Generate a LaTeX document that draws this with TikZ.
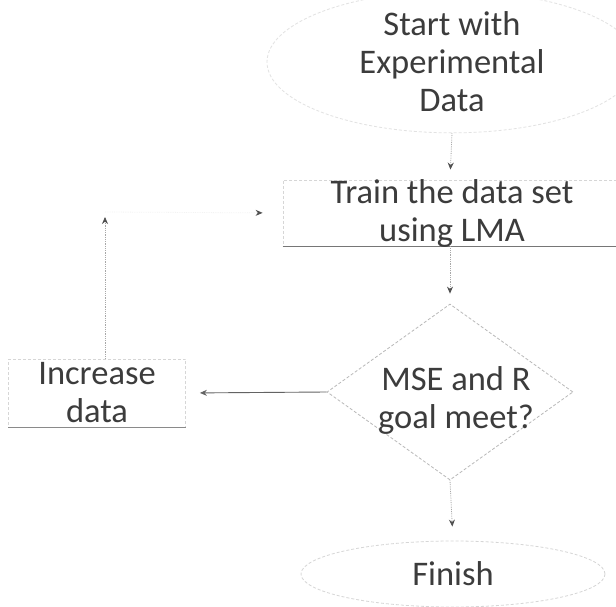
\documentclass[tikz,border=0pt]{standalone}
\usepackage{fontspec}
\setmainfont{Carlito}
\usetikzlibrary{shapes.geometric,arrows.meta}
\definecolor{txt}{HTML}{3C3C3C}
\definecolor{faint}{HTML}{D6D6D6}
\definecolor{mid}{HTML}{A8A8A8}
\begin{document}
\begin{tikzpicture}[x=1pt,y=-1pt,
  every node/.style={text=txt,font=\fontsize{34.5}{38}\selectfont,align=center,inner sep=0pt},
  outline/.style={draw=faint,line width=0.8pt,densely dashed},
  flow/.style={draw=mid,line width=0.8pt,densely dotted,-{Stealth[length=7pt,width=6pt,color=txt!90]},shorten >=10pt},
  solidflow/.style={draw=txt!80,line width=0.9pt,-{Stealth[length=7pt,width=6pt]},shorten >=14pt}]
\useasboundingbox (0,0) rectangle (616,607);
\fill[white] (0,0) rectangle (616,607);

% start
\node[ellipse,outline,draw=faint!70,minimum width=370,minimum height=122] (start) at (452,62) {Start with\\Experimental\\Data};
% train
\node[rectangle,outline,minimum width=334,minimum height=66] (train) at (450,213) {};
\draw[draw=txt!70,line width=0.9pt] (train.south west) -- (train.south east);
\node (traintext) at (452,213) {Train the data set\\using LMA};
% decision
\node[diamond,outline,draw=mid!80,minimum width=246,minimum height=176] (dia) at (450,392) {};
\node (diatext) at (456,400) {MSE and R\\goal meet?};
% increase
\node[rectangle,outline,minimum width=177,minimum height=68] (inc) at (97,393) {Increase\\data};
\draw[draw=txt!60,line width=0.8pt] (inc.south west) -- (inc.south east);
% finish
\node[ellipse,outline,minimum width=304,minimum height=66] (fin) at (453,574) {Finish};

% connectors
\coordinate (loopc) at (105,212);
\draw[flow] (start.south) -- (train.north);
\draw[flow] (train.south) -- (dia.north);
\draw[solidflow] (dia.west) -- (inc.east);
\draw[flow,shorten >=5pt] (inc.north -| loopc) -- (loopc);
\draw[flow,draw=faint!30,shorten >=20pt] (loopc) -- (train.west);
\draw[flow,shorten >=14pt] (dia.south) -- (fin.north);
\end{tikzpicture}
\end{document}
